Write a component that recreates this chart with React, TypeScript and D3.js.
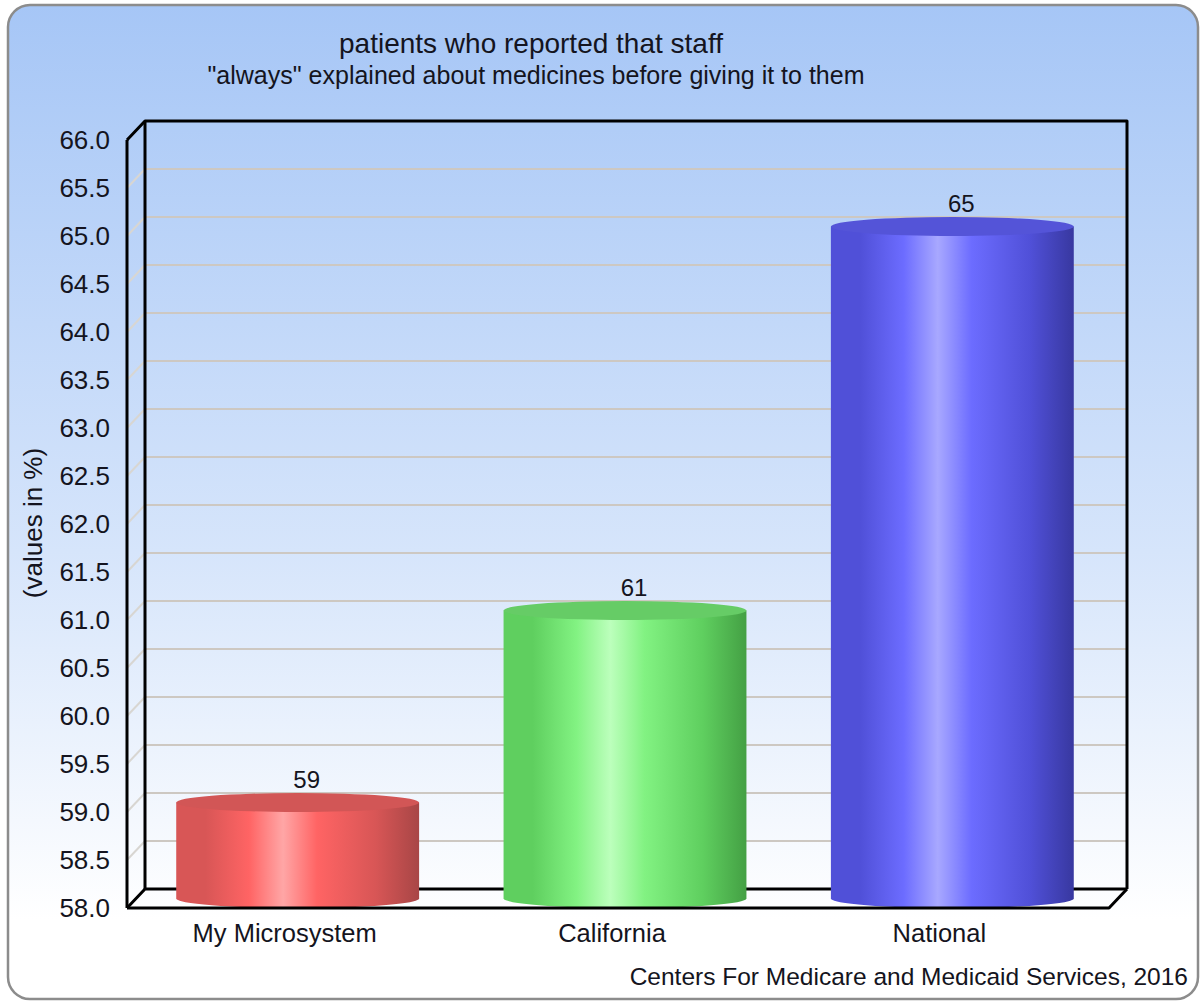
import * as d3 from "d3"

// chart data
const categories = ["My Microsystem", "California", "National"]
const values = [59, 61, 65]
const tickValues = [58, 58.5, 59, 59.5, 60, 60.5, 61, 61.5, 62, 62.5, 63, 63.5, 64, 64.5, 65, 65.5, 66]
const title = "patients who reported that staff"
const subtitle = "\"always\" explained about medicines before giving it to them"
const yTitle = "(values in %)"
const source = "Centers For Medicare and Medicaid Services, 2016"

// cylinder shading per bar: [edge, mid, bright, highlight, top]
const palettes = [
  ["#a84646", "#d85656", "#ff6464", "#ffa6a6", "#d25656"],
  ["#44a044", "#5fcf5f", "#82f282", "#bcffbc", "#66cc66"],
  ["#3838a0", "#5050d8", "#6c6cff", "#a8a8ff", "#5454d8"],
]

const W = 1202
const H = 1002
const FONT = "Arial, 'Liberation Sans', sans-serif"
const INK = "#141420"

export default function App() {
  const dx = 18
  const dy = -19
  const left = 127
  const right = 1109
  const bottom = 908
  const top = 140

  const y = d3.scaleLinear().domain([58, 66]).range([bottom, top])
  const x = d3.scaleBand().domain(categories).range([left - 2, right - 2]).padding(0)
  const barW = x.bandwidth() * 0.742
  const rx = barW / 2
  const ry = Math.abs(dy) / 2

  const gridColor = "#cdc8c2"

  return (
    <svg width={W} height={H} style={{ position: "absolute", left: 0, top: 0 }} fontFamily={FONT}>
      <defs>
        <linearGradient id="bg" x1="0" y1="0" x2="0" y2="1">
          <stop offset="0%" stopColor="#a6c6f6" />
          <stop offset="55%" stopColor="#d6e5fb" />
          <stop offset="92%" stopColor="#ffffff" />
        </linearGradient>
        {palettes.map((p, i) => (
          <linearGradient id={"cyl" + i} key={i} x1="0" y1="0" x2="1" y2="0">
            <stop offset="0%" stopColor={p[1]} />
            <stop offset="12%" stopColor={p[1]} />
            <stop offset="30%" stopColor={p[2]} />
            <stop offset="44%" stopColor={p[3]} />
            <stop offset="58%" stopColor={p[2]} />
            <stop offset="82%" stopColor={p[1]} />
            <stop offset="100%" stopColor={p[0]} />
          </linearGradient>
        ))}
      </defs>

      <rect x={8} y={5} width={1190} height={994} rx={22} ry={22} fill="url(#bg)" stroke="#8c8c8c" strokeWidth={2.5} />

      {/* titles */}
      <text x={531} y={53} textAnchor="middle" fontSize={28} fill={INK}>{title}</text>
      <text x={536} y={84} textAnchor="middle" fontSize={25} fill={INK}>{subtitle}</text>

      {/* grid: side wall diagonals and back wall lines */}
      {tickValues.slice(1, -1).map((t) => (
        <g key={t}>
          <line x1={left} y1={y(t)} x2={left + dx} y2={y(t) + dy} stroke="#d8d6d2" strokeWidth={2} />
          <line x1={left + dx} y1={y(t) + dy} x2={right + dx} y2={y(t) + dy} stroke={gridColor} strokeWidth={2} />
        </g>
      ))}

      {/* back frame */}
      <g stroke="#000" strokeWidth={3} fill="none" strokeLinejoin="round">
        <polyline points={`${left},${top} ${left + dx},${top + dy} ${right + dx},${top + dy} ${right + dx},${bottom + dy}`} />
        <line x1={left + dx} y1={top + dy} x2={left + dx} y2={bottom + dy} />
        <polyline points={`${left},${bottom} ${left + dx},${bottom + dy} ${right + dx},${bottom + dy}`} />
      </g>

      {/* tick labels */}
      {tickValues.map((t) => (
        <text key={t} x={110} y={y(t)} dy="0.35em" textAnchor="end" fontSize={26} fill={INK}>
          {t.toFixed(1)}
        </text>
      ))}

      <text transform={`translate(33,${523}) rotate(-90)`} textAnchor="middle" dy="0.35em" fontSize={26} fill={INK}>
        {yTitle}
      </text>

      {/* cylinders */}
      {categories.map((c, i) => {
        const cx = (x(c) as number) + x.bandwidth() / 2 + dx / 2
        const topY = y(values[i]) + dy / 2
        const botY = y(58) + dy / 2
        const l = cx - rx
        const r = cx + rx
        const body = `M${l},${topY} L${l},${botY} A${rx},${ry} 0 0 0 ${r},${botY} L${r},${topY} Z`
        return (
          <g key={c}>
            <path d={body} fill={`url(#cyl${i})`} />
            <ellipse cx={cx} cy={topY} rx={rx} ry={ry} fill={palettes[i][4]} />
            <text x={cx + 9} y={y(values[i]) + dy - 5} textAnchor="middle" fontSize={24} fill={INK}>
              {values[i]}
            </text>
          </g>
        )
      })}

      {/* front frame */}
      <g stroke="#000" strokeWidth={3} fill="none" strokeLinejoin="round">
        <line x1={left} y1={top} x2={left} y2={bottom} />
        <polyline points={`${left},${bottom} ${right},${bottom} ${right + dx},${bottom + dy}`} />
      </g>

      {/* category labels */}
      {categories.map((c) => (
        <text key={c} x={(x(c) as number) + x.bandwidth() / 2 - 4} y={942} textAnchor="middle" fontSize={25.5} fill={INK}>
          {c}
        </text>
      ))}

      <text x={1188} y={985} textAnchor="end" fontSize={24.5} fill={INK}>{source}</text>
    </svg>
  )
}
